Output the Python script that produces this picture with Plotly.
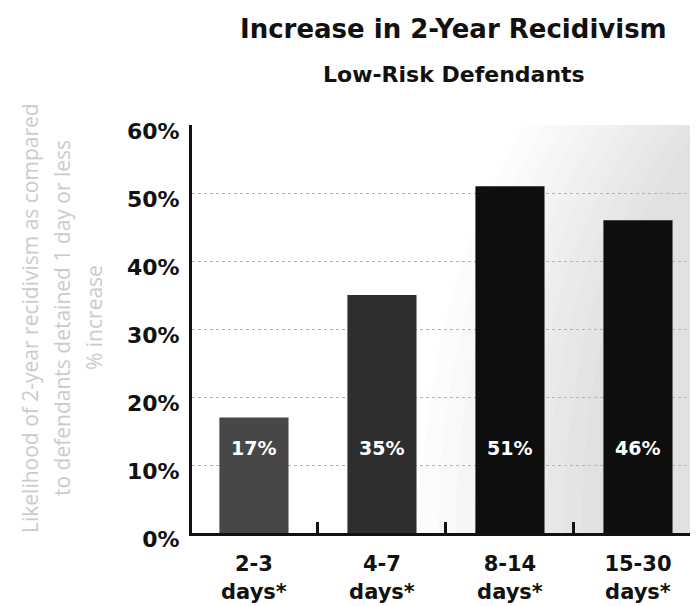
import plotly.graph_objects as go

categories = ["2-3<br>days*", "4-7<br>days*", "8-14<br>days*", "15-30<br>days*"]
values = [17, 35, 51, 46]
value_labels = ["17%", "35%", "51%", "46%"]
bar_colors = ["#474747", "#2e2e2e", "#0e0e0e", "#0e0e0e"]
y_ticks = [0, 10, 20, 30, 40, 50, 60]
y_tick_text = ["0%", "10%", "20%", "30%", "40%", "50%", "60%"]
ytitle_lines = ["Likelihood of 2-year recidivism as compared",
                "to defendants detained 1 day or less",
                "% increase"]

x_pos = list(range(len(categories)))
BOLD = "'DejaVu Sans', sans-serif"
LIGHT = "'Open Sans', sans-serif"

# page has an 8px body margin: figure sized so the plot lands where the reference has it
PL, PR, PT, PB = 192, 698, 125, 533   # plot area in page pixels


def px(x):
    return (x - PL) / (PR - PL)


def py(y):
    return (PB - y) / (PB - PT)


fig = go.Figure()
fig.add_trace(go.Bar(
    x=x_pos, y=values, width=0.54,
    marker=dict(color=bar_colors, line=dict(width=0)),
    hoverinfo="skip", showlegend=False,
))

for xp, lab in zip(x_pos, value_labels):
    fig.add_annotation(x=xp, y=12.5, xref="x", yref="y", text="<b>%s</b>" % lab,
                       showarrow=False, font=dict(family=BOLD, size=19, color="white"))

# stippled gradient background (decoration)
n = 10
for k in range(n):
    x0 = 1.30 + 0.14 * k
    x1 = 7.10 - 0.14 * k
    r = 86 - 2.2 * k
    fig.add_shape(type="circle", xref="x", yref="y", x0=x0, x1=x1, y0=-r, y1=r,
                  fillcolor="#6e6e6e", opacity=0.022, line=dict(width=0), layer="below")

fig.add_annotation(xref="paper", yref="paper", x=px(453), y=py(29),
                   text="<b>Increase in 2-Year Recidivism</b>", showarrow=False,
                   font=dict(family=BOLD, size=26, color="#111"), xanchor="center", yanchor="middle")
fig.add_annotation(xref="paper", yref="paper", x=px(454), y=py(74),
                   text="<b>Low-Risk Defendants</b>", showarrow=False,
                   font=dict(family=BOLD, size=22, color="#111"), xanchor="center", yanchor="middle")

for i, line in enumerate(ytitle_lines):
    fig.add_annotation(xref="paper", yref="paper", x=px(30 + 32 * i), y=py(318),
                       text=line, showarrow=False, textangle=-90,
                       font=dict(family=LIGHT, size=21, color="#cbcbcb"),
                       xanchor="center", yanchor="middle")

fig.update_layout(
    width=690, height=598,
    margin=dict(l=PL - 8, r=0, t=PT - 8, b=606 - PB),
    paper_bgcolor="white", plot_bgcolor="white",
    font=dict(family=BOLD, color="#111"),
    xaxis=dict(
        range=[-0.484, 3.469], tickmode="array", tickvals=x_pos,
        ticktext=["<b>%s</b>" % c for c in categories],
        tickfont=dict(family=BOLD, size=21, color="#111"),
        ticks="outside", ticklen=10, tickcolor="rgba(0,0,0,0)",
        showline=True, linecolor="#111", linewidth=3, showgrid=False, zeroline=False,
        minor=dict(tick0=0.5, dtick=1, ticks="inside", ticklen=11, tickwidth=2.5,
                   tickcolor="#111", showgrid=False),
    ),
    yaxis=dict(
        range=[0, 60], tickmode="array", tickvals=y_ticks,
        ticktext=["<b>%s</b>" % t for t in y_tick_text],
        tickfont=dict(family=BOLD, size=22, color="#111"),
        ticklabelshift=6,
        showline=True, linecolor="#111", linewidth=3,
        showgrid=True, gridcolor="#b5b5b5", gridwidth=1, griddash="dot",
        zeroline=False, ticks="outside", ticklen=5, tickcolor="rgba(0,0,0,0)",
    ),
)

fig.write_html("out.html")
